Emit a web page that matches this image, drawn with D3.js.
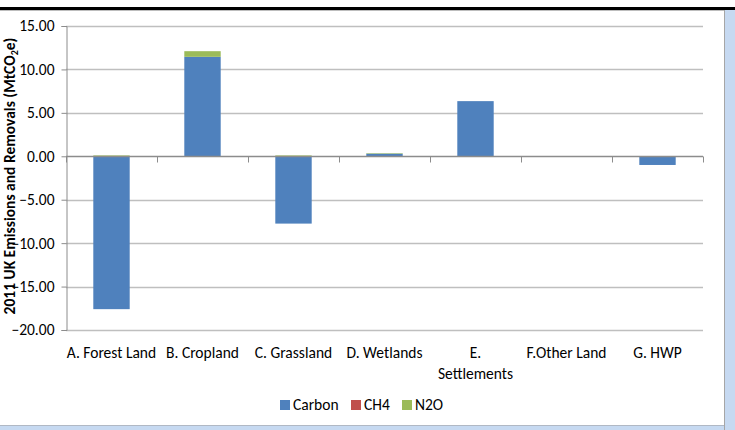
<!DOCTYPE html>
<html><head><meta charset="utf-8">
<script src="https://cdn.jsdelivr.net/npm/d3@7"></script>
<style>
html,body{margin:0;padding:0;background:#fff;}
svg{display:block;font-family:Carlito,Calibri,"Liberation Sans",Arial,sans-serif;}
</style></head>
<body>
<svg id="c" width="735" height="430"></svg>
<script>
const categories = ["A. Forest Land","B. Cropland","C. Grassland","D. Wetlands","E. Settlements","F.Other Land","G. HWP"];
const carbon = [-17.6, 11.45, -7.75, 0.3, 6.35, 0.0, -1.0];
const ch4    = [0.02, 0.0, 0.02, 0.0, 0.0, 0.0, 0.0];
const n2o    = [0.08, 0.65, 0.08, 0.06, 0.0, 0.0, 0.0];
const seriesNames = ["Carbon","CH4","N2O"];
const colors = ["#4f81bd","#c0504d","#9bbb59"];
const yTicks = [-20,-15,-10,-5,0,5,10,15];
const FS = 15.5;

const svg = d3.select("#c");
// frame decorations
svg.append("rect").attr("x",0).attr("y",7).attr("width",735).attr("height",3).attr("fill","#000");
svg.append("rect").attr("x",0).attr("y",10).attr("width",724).attr("height",1).attr("fill","#bdbdbd");
svg.append("rect").attr("x",725).attr("y",10).attr("width",10).attr("height",420).attr("fill","#c6d9f1");
svg.append("rect").attr("x",724).attr("y",10).attr("width",1).attr("height",420).attr("fill","#a6a6a6");
svg.append("rect").attr("x",0).attr("y",426).attr("width",724).attr("height",4).attr("fill","#c6d9f1");
svg.append("rect").attr("x",0).attr("y",425).attr("width",724).attr("height",1).attr("fill","#b0b8c4");

const x0 = 66, x1 = 703;
const y = d3.scaleLinear().domain([-20,15]).range([330,26]);
const x = d3.scaleBand().domain(categories).range([x0,x1]).paddingInner(0.6).paddingOuter(0.3);
const xb = d3.scaleBand().domain(categories).range([x0,x1]);

// gridlines
svg.append("g").selectAll("line").data(yTicks.filter(t=>t!==0)).join("line")
  .attr("x1",x0).attr("x2",x1).attr("y1",d=>Math.round(y(d))+0.5).attr("y2",d=>Math.round(y(d))+0.5)
  .attr("stroke","#bfbfbf").attr("stroke-width",1.3);

// y axis
const yAxis = d3.axisLeft(y).tickValues(yTicks).tickFormat(d3.format(".2f")).tickSize(5);
const ga = svg.append("g").attr("transform",`translate(${x0+0.5},0)`).call(yAxis);
ga.select(".domain").attr("stroke","#8c8c8c");
ga.selectAll(".tick line").attr("stroke","#8c8c8c");
ga.selectAll(".tick text").attr("font-size",FS).attr("fill","#000").attr("x",-12)
  .attr("font-family","Carlito,Calibri,'Liberation Sans',Arial,sans-serif");

// bars
const rows = categories.map((c,i)=>({cat:c, Carbon:carbon[i], CH4:ch4[i], N2O:n2o[i]}));
const stack = d3.stack().keys(seriesNames).offset(d3.stackOffsetDiverging);
const layers = stack(rows);
svg.append("g").selectAll("g").data(layers).join("g").attr("fill",(d,i)=>colors[i])
  .selectAll("rect").data(d=>d).join("rect")
  .attr("x",d=>x(d.data.cat)).attr("width",x.bandwidth())
  .attr("y",d=>y(Math.max(d[0],d[1])))
  .attr("height",d=>Math.abs(y(d[0])-y(d[1])));

// x axis at zero
const gx = svg.append("g").attr("transform",`translate(0,${Math.round(y(0))+0.5})`);
gx.append("line").attr("x1",x0).attr("x2",x1).attr("stroke","#8c8c8c").attr("stroke-width",1.3);
const bounds = categories.map(c=>xb(c)).concat([x1]);
gx.selectAll("line.t").data(bounds).join("line").attr("class","t")
  .attr("x1",d=>Math.round(d)+0.5).attr("x2",d=>Math.round(d)+0.5).attr("y1",0).attr("y2",6)
  .attr("stroke","#8c8c8c");

// category labels
const labelLines = {"E. Settlements":["E.","Settlements"]};
categories.forEach(c=>{
  const lines = labelLines[c] || [c];
  const t = svg.append("text").attr("text-anchor","middle").attr("font-size",FS).attr("fill","#000");
  lines.forEach((l,i)=>t.append("tspan").attr("x",xb(c)+xb.bandwidth()/2).attr("y",358+i*21).text(l));
});

// y axis title
const yt = svg.append("text").attr("transform","translate(15,176) rotate(-90)")
  .attr("text-anchor","middle").attr("font-size",FS).attr("font-weight","bold").attr("fill","#000");
yt.append("tspan").text("2011 UK Emissions and Removals (MtCO");
yt.append("tspan").attr("font-size",10).attr("dy",3).text("2");
yt.append("tspan").attr("dy",-3).text("e)");

// legend
const legX = [280, 351, 402];
seriesNames.forEach((s,i)=>{
  svg.append("rect").attr("x",legX[i]).attr("y",400).attr("width",10).attr("height",10).attr("fill",colors[i]);
  svg.append("text").attr("x",legX[i]+13).attr("y",410).attr("font-size",FS).attr("fill","#000").text(s);
});
</script>
</body></html>
